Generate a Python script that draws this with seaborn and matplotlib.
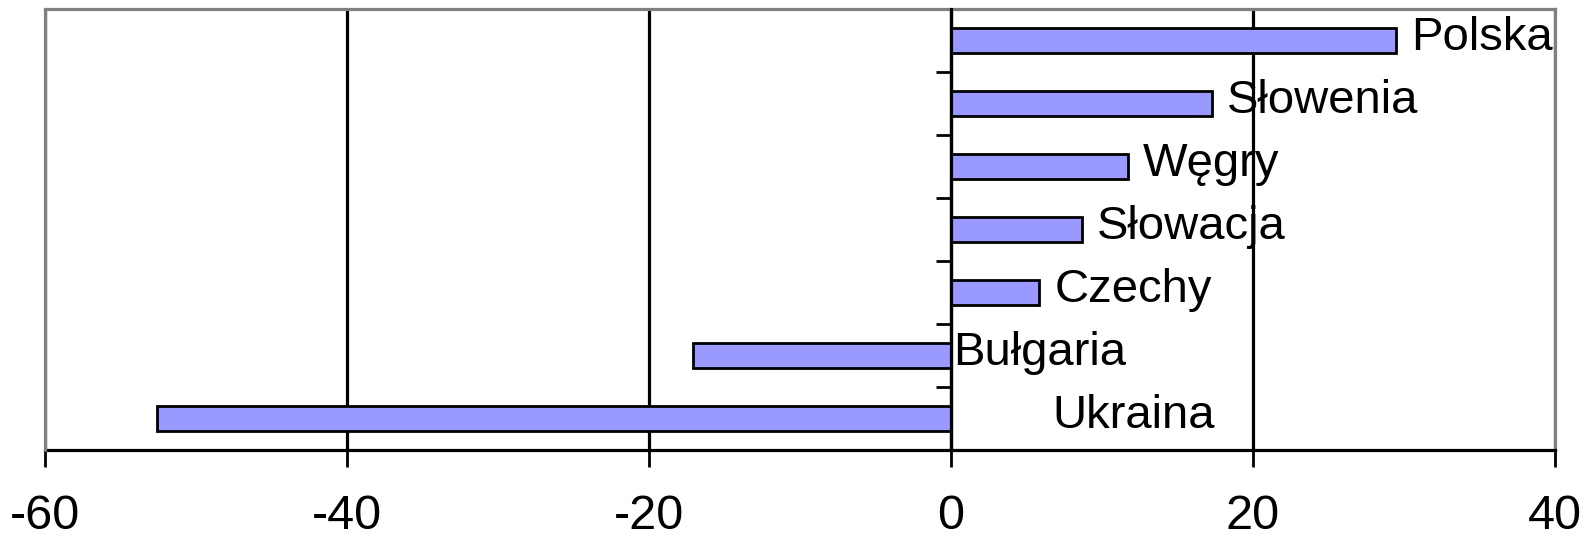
import matplotlib
matplotlib.use("Agg")
import matplotlib.pyplot as plt
import seaborn as sns
import pandas as pd

categories = ["Polska", "Słowenia", "Węgry", "Słowacja", "Czechy", "Bułgaria", "Ukraina"]
values = [29.5, 17.3, 11.7, 8.7, 5.85, -17.1, -52.6]
x_ticks = [-60, -40, -20, 0, 20, 40]
# label offset in pixels from the bar end (or from zero for negatives)
label_offsets_px = [15, 15, 15, 15, 15, 2, 101]

sns.set_style("white")
plt.rcParams["font.family"] = ["Liberation Sans", "DejaVu Sans"]
plt.rcParams["text.color"] = "black"
plt.rcParams["xtick.labelcolor"] = "black"

df = pd.DataFrame({"kraj": categories, "wartosc": values})

fig = plt.figure(figsize=(15.91, 5.38), dpi=100)
ax = fig.add_axes([45 / 1591, 1 - 450 / 538, 1510 / 1591, 441 / 538])

sns.barplot(data=df, y="kraj", x="wartosc", orient="h", color="#9999FF",
            edgecolor="black", linewidth=2.0, width=0.4, saturation=1, ax=ax, zorder=2)

ax.set_xlim(-60, 40)
ax.set_ylim(len(categories) - 0.5, -0.5)
ax.set_xticks(x_ticks)
ax.set_xticklabels([str(t) for t in x_ticks])
ax.set_yticks([i - 0.5 for i in range(len(categories) + 1)])
ax.set_yticklabels([])
ax.set_xlabel("")
ax.set_ylabel("")

ax.xaxis.grid(True, color="black", linewidth=2.3)
ax.set_axisbelow(True)

for s in ["top", "right"]:
    ax.spines[s].set_color("#808080")
    ax.spines[s].set_linewidth(2.3)
ax.spines["bottom"].set_color("black")
ax.spines["bottom"].set_linewidth(2.3)
ax.spines["left"].set_position(("data", 0))
ax.spines["left"].set_color("black")
ax.spines["left"].set_linewidth(2.3)
ax.spines["left"].set_zorder(3)
ax.axvline(-60, color="#808080", linewidth=2.3, clip_on=False, zorder=3)

ax.tick_params(axis="x", direction="out", length=12, width=2, color="black",
               labelcolor="black", labelsize=35, pad=20, bottom=True)
ax.tick_params(axis="y", direction="out", length=11, width=2, color="black", left=True)

for i, (cat, v) in enumerate(zip(categories, values)):
    ax.annotate(cat, xy=(max(v, 0), i), xytext=(label_offsets_px[i] * 72 / 100, 2),
                textcoords="offset points", ha="left", va="center", fontsize=34,
                color="black", zorder=4)

fig.savefig("out.png", dpi=100)
